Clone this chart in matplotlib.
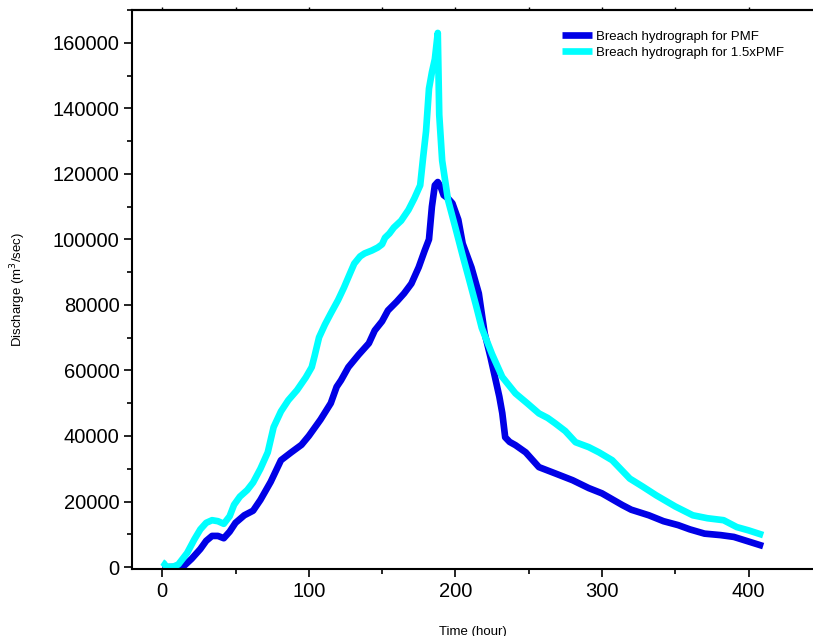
import numpy as np
import matplotlib
matplotlib.use("Agg")
import matplotlib.pyplot as plt
from matplotlib.ticker import MultipleLocator

plt.rcParams["font.family"] = ["Liberation Sans", "DejaVu Sans"]

# breach hydrograph for PMF
t_pmf = [0, 5, 10, 14, 20, 26, 30, 34, 38, 42, 46, 50, 56, 62, 67, 74, 81, 88, 95, 100,
         108, 115, 119, 122, 127, 134, 141, 145, 150, 154, 160, 165, 170, 175, 179, 182,
         184, 186, 188, 190, 192, 195, 198, 202, 205, 211, 216, 220, 224, 227, 230, 232,
         234, 237, 241, 248, 257, 268, 280, 291, 300, 314, 320, 332, 342, 352, 360, 370,
         381, 390, 400, 410]
q_pmf = [0, 0, 0, 0, 2500, 5500, 8000, 9500, 9500, 8800, 10800, 13500, 15800, 17200, 20500,
         26000, 32600, 35000, 37300, 40000, 45000, 50000, 55000, 57000, 61000, 64800, 68300,
         72200, 75000, 78300, 81000, 83500, 86500, 91500, 96500, 100000, 110000, 116500,
         117500, 116000, 113500, 112500, 111000, 106000, 98700, 91400, 83500, 71300, 64000,
         58000, 52000, 47000, 39600, 38200, 37200, 35000, 30500, 28600, 26500, 24100, 22500,
         18900, 17500, 15800, 14000, 12800, 11500, 10200, 9750, 9200, 7800, 6400]

# breach hydrograph for 1.5xPMF
t_15pmf = [0, 1, 3, 8, 11, 17, 22, 26, 30, 34, 38, 42, 46, 49, 53, 58, 62, 67, 72, 76, 81,
           86, 92, 98, 102, 104, 107, 111, 115, 120, 124, 128, 131, 135, 138, 143, 147, 150,
           152, 155, 158, 163, 168, 172, 176, 178, 180, 182, 184, 186, 188, 189, 191, 193,
           195, 200, 205, 209, 214, 218, 225, 232, 241, 249, 257, 263, 268, 275, 282, 291,
           298, 307, 319, 328, 337, 350, 362, 372, 383, 392, 400, 410]
q_15pmf = [1500, 1200, 0, 200, 800, 4300, 8500, 11500, 13500, 14300, 14000, 13200, 15500,
           19000, 21500, 23500, 25800, 30000, 35000, 42700, 47500, 50900, 54000, 57900, 61000,
           64500, 70100, 74000, 77400, 81500, 85300, 89500, 92600, 94800, 95700, 96600, 97500,
           98500, 100500, 101800, 103600, 105700, 109000, 112500, 116500, 125000, 133000,
           146000, 151000, 155000, 163000, 138000, 124000, 118000, 112000, 103600, 95000,
           88400, 80000, 73000, 65000, 58000, 53000, 50000, 46900, 45500, 43900, 41500, 38100,
           36600, 35000, 32600, 27000, 24500, 21900, 18500, 15800, 14900, 14300, 12200, 11200,
           9750]

fig = plt.figure(figsize=(8.13, 6.36), dpi=100)
ax = fig.add_axes([0.1624, 0.1053, 0.8376, 0.879])

ax.plot(t_pmf, q_pmf, color="#0000e6", lw=4.8, label="Breach hydrograph for PMF",
        solid_joinstyle="round", solid_capstyle="butt")
ax.plot(t_15pmf, q_15pmf, color="#00ffff", lw=4.8, label="Breach hydrograph for 1.5xPMF",
        solid_joinstyle="round", solid_capstyle="butt")

ax.set_xlim(-20.6, 444)
ax.set_ylim(-600, 170000)

ax.xaxis.set_major_locator(MultipleLocator(100))
ax.xaxis.set_minor_locator(MultipleLocator(50))
ax.yaxis.set_major_locator(MultipleLocator(20000))
ax.yaxis.set_minor_locator(MultipleLocator(10000))

ax.spines["right"].set_visible(False)
for s in ["left", "bottom", "top"]:
    ax.spines[s].set_linewidth(1.5)

ax.tick_params(axis="both", which="major", direction="out", length=6, width=1.2,
               labelsize=14.5, pad=3)
ax.tick_params(axis="both", which="minor", direction="out", length=3.5, width=1.2)

# short ticks on the top edge
top = ax.secondary_xaxis("top")
top.xaxis.set_major_locator(MultipleLocator(50))
top.tick_params(direction="out", length=2, width=1.0, labeltop=False)
top.spines["top"].set_linewidth(1.5)

ax.set_xlabel("Time (hour)", fontsize=9.5, labelpad=18)
ax.set_ylabel("Discharge (m$^3$/sec)", fontsize=9.5, labelpad=18)

ax.legend(loc="upper left", bbox_to_anchor=(0.683, 0.962), bbox_transform=fig.transFigure,
          frameon=False, fontsize=9.5, handlelength=2.3, handletextpad=0.3,
          labelspacing=0.25, borderpad=0)

fig.savefig("out.png", dpi=100)
